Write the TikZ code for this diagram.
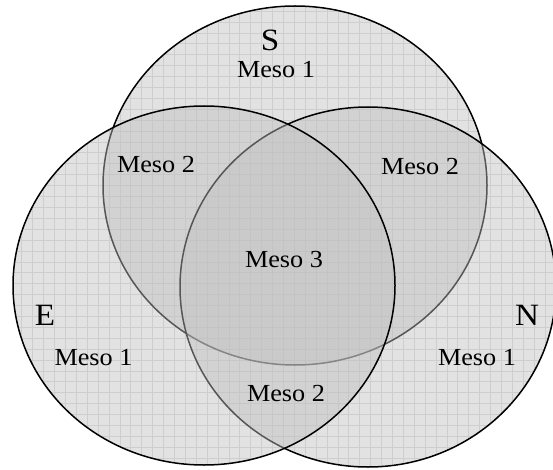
\documentclass[tikz,border=0pt]{standalone}
\usepackage{fontspec}
\setmainfont{Liberation Serif}[FakeStretch=1.07]
\begin{document}
\begin{tikzpicture}[x=1pt, y=1pt,
  setfill/.style={draw=black, line width=1.5pt, fill=black!25, fill opacity=0.45},
  meso/.style={font=\fontsize{24.5}{28}\selectfont},
  setname/.style={font=\fontsize{31}{36}\selectfont}]

  \useasboundingbox (0,0) rectangle (553,469);

  % --- 1. 円の中心 ---
  \coordinate (Sc) at (295, 283.5);
  \coordinate (Ec) at (204, 183.5);
  \coordinate (Nc) at (368, 182);

  % --- 2. 方眼 (3つの円の和集合でクリップ) ---
  \begin{scope}
    \clip (Sc) ellipse [x radius=192, y radius=179.5]
          (Ec) ellipse [x radius=191, y radius=179.5]
          (Nc) ellipse [x radius=188, y radius=180];
    \draw[black!14, line width=0.8pt, step=10.9pt] (0,0) grid (560,469);
  \end{scope}

  % --- 3. 円 (S -> N -> E の順に重ねる) ---
  \draw[setfill] (Sc) ellipse [x radius=192, y radius=179.5];
  \draw[setfill] (Nc) ellipse [x radius=188, y radius=180];
  \draw[setfill] (Ec) ellipse [x radius=191, y radius=179.5];

  % --- 4. ラベル ---
  \node[setname] (S) at (270, 429) {S};
  \node[setname] (E) at (45, 154) {E};
  \node[setname] (N) at (527, 154) {N};

  \node[meso] (S1)  at (276, 399) {Meso 1};
  \node[meso] (E1)  at (93.5, 111) {Meso 1};
  \node[meso] (N1)  at (477, 111) {Meso 1};
  \node[meso] (SE2) at (156, 304) {Meso 2};
  \node[meso] (SN2) at (420, 302) {Meso 2};
  \node[meso] (EN2) at (286, 75) {Meso 2};
  \node[meso] (M3)  at (284, 209) {Meso 3};

\end{tikzpicture}
\end{document}
